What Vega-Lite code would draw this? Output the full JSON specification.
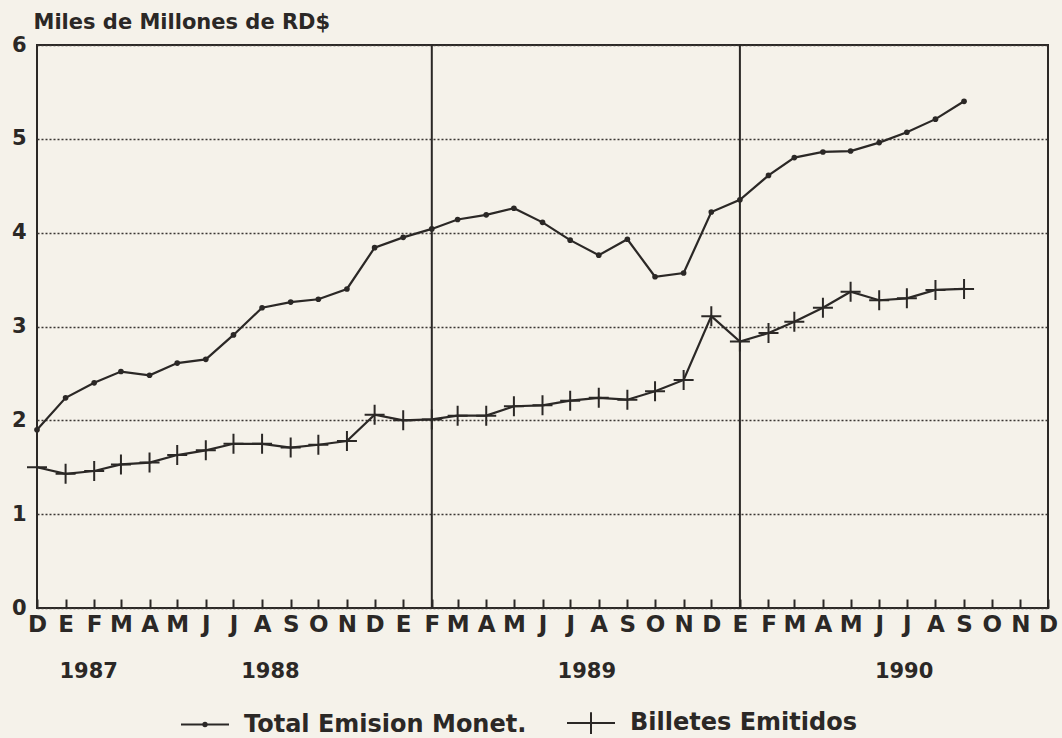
{
  "$schema": "https://vega.github.io/schema/vega-lite/v6.json",
  "width": 1011,
  "height": 563,
  "autosize": {"type": "none"},
  "padding": {"left": 37, "top": 45, "right": 14, "bottom": 130},
  "background": "#f5f2ea",
  "config": {
    "view": {"stroke": "#2b2826", "strokeWidth": 2},
    "font": "DejaVu Sans"
  },
  "datasets": {
    "series": [
      {"m": "1987-12-01", "s": "Total Emision Monet.", "v": 1.90},
      {"m": "1988-01-01", "s": "Total Emision Monet.", "v": 2.24},
      {"m": "1988-02-01", "s": "Total Emision Monet.", "v": 2.40},
      {"m": "1988-03-01", "s": "Total Emision Monet.", "v": 2.52},
      {"m": "1988-04-01", "s": "Total Emision Monet.", "v": 2.48},
      {"m": "1988-05-01", "s": "Total Emision Monet.", "v": 2.61},
      {"m": "1988-06-01", "s": "Total Emision Monet.", "v": 2.65},
      {"m": "1988-07-01", "s": "Total Emision Monet.", "v": 2.91},
      {"m": "1988-08-01", "s": "Total Emision Monet.", "v": 3.20},
      {"m": "1988-09-01", "s": "Total Emision Monet.", "v": 3.26},
      {"m": "1988-10-01", "s": "Total Emision Monet.", "v": 3.29},
      {"m": "1988-11-01", "s": "Total Emision Monet.", "v": 3.40},
      {"m": "1988-12-01", "s": "Total Emision Monet.", "v": 3.84},
      {"m": "1989-01-01", "s": "Total Emision Monet.", "v": 3.95},
      {"m": "1989-02-01", "s": "Total Emision Monet.", "v": 4.04},
      {"m": "1989-03-01", "s": "Total Emision Monet.", "v": 4.14},
      {"m": "1989-04-01", "s": "Total Emision Monet.", "v": 4.19},
      {"m": "1989-05-01", "s": "Total Emision Monet.", "v": 4.26},
      {"m": "1989-06-01", "s": "Total Emision Monet.", "v": 4.11},
      {"m": "1989-07-01", "s": "Total Emision Monet.", "v": 3.92},
      {"m": "1989-08-01", "s": "Total Emision Monet.", "v": 3.76},
      {"m": "1989-09-01", "s": "Total Emision Monet.", "v": 3.93},
      {"m": "1989-10-01", "s": "Total Emision Monet.", "v": 3.53},
      {"m": "1989-11-01", "s": "Total Emision Monet.", "v": 3.57},
      {"m": "1989-12-01", "s": "Total Emision Monet.", "v": 4.22},
      {"m": "1990-01-01", "s": "Total Emision Monet.", "v": 4.35},
      {"m": "1990-02-01", "s": "Total Emision Monet.", "v": 4.61},
      {"m": "1990-03-01", "s": "Total Emision Monet.", "v": 4.80},
      {"m": "1990-04-01", "s": "Total Emision Monet.", "v": 4.86},
      {"m": "1990-05-01", "s": "Total Emision Monet.", "v": 4.87},
      {"m": "1990-06-01", "s": "Total Emision Monet.", "v": 4.96},
      {"m": "1990-07-01", "s": "Total Emision Monet.", "v": 5.07},
      {"m": "1990-08-01", "s": "Total Emision Monet.", "v": 5.21},
      {"m": "1990-09-01", "s": "Total Emision Monet.", "v": 5.40},
      {"m": "1987-12-01", "s": "Billetes Emitidos", "v": 1.50},
      {"m": "1988-01-01", "s": "Billetes Emitidos", "v": 1.43},
      {"m": "1988-02-01", "s": "Billetes Emitidos", "v": 1.46},
      {"m": "1988-03-01", "s": "Billetes Emitidos", "v": 1.53},
      {"m": "1988-04-01", "s": "Billetes Emitidos", "v": 1.55},
      {"m": "1988-05-01", "s": "Billetes Emitidos", "v": 1.63},
      {"m": "1988-06-01", "s": "Billetes Emitidos", "v": 1.68},
      {"m": "1988-07-01", "s": "Billetes Emitidos", "v": 1.75},
      {"m": "1988-08-01", "s": "Billetes Emitidos", "v": 1.75},
      {"m": "1988-09-01", "s": "Billetes Emitidos", "v": 1.71},
      {"m": "1988-10-01", "s": "Billetes Emitidos", "v": 1.74},
      {"m": "1988-11-01", "s": "Billetes Emitidos", "v": 1.78},
      {"m": "1988-12-01", "s": "Billetes Emitidos", "v": 2.06},
      {"m": "1989-01-01", "s": "Billetes Emitidos", "v": 2.00},
      {"m": "1989-02-01", "s": "Billetes Emitidos", "v": 2.01},
      {"m": "1989-03-01", "s": "Billetes Emitidos", "v": 2.05},
      {"m": "1989-04-01", "s": "Billetes Emitidos", "v": 2.05},
      {"m": "1989-05-01", "s": "Billetes Emitidos", "v": 2.15},
      {"m": "1989-06-01", "s": "Billetes Emitidos", "v": 2.16},
      {"m": "1989-07-01", "s": "Billetes Emitidos", "v": 2.21},
      {"m": "1989-08-01", "s": "Billetes Emitidos", "v": 2.24},
      {"m": "1989-09-01", "s": "Billetes Emitidos", "v": 2.22},
      {"m": "1989-10-01", "s": "Billetes Emitidos", "v": 2.31},
      {"m": "1989-11-01", "s": "Billetes Emitidos", "v": 2.43},
      {"m": "1989-12-01", "s": "Billetes Emitidos", "v": 3.11},
      {"m": "1990-01-01", "s": "Billetes Emitidos", "v": 2.84},
      {"m": "1990-02-01", "s": "Billetes Emitidos", "v": 2.93},
      {"m": "1990-03-01", "s": "Billetes Emitidos", "v": 3.05},
      {"m": "1990-04-01", "s": "Billetes Emitidos", "v": 3.20},
      {"m": "1990-05-01", "s": "Billetes Emitidos", "v": 3.37},
      {"m": "1990-06-01", "s": "Billetes Emitidos", "v": 3.28},
      {"m": "1990-07-01", "s": "Billetes Emitidos", "v": 3.30},
      {"m": "1990-08-01", "s": "Billetes Emitidos", "v": 3.39},
      {"m": "1990-09-01", "s": "Billetes Emitidos", "v": 3.40}
    ],
    "dividers": [
      {"m": "1989-02-01"},
      {"m": "1990-01-01"}
    ],
    "years": [
      {"m": "1988-01-26", "label": "1987"},
      {"m": "1988-08-10", "label": "1988"},
      {"m": "1989-07-19", "label": "1989"},
      {"m": "1990-06-28", "label": "1990"}
    ]
  },
  "layer": [
    {
      "data": {"name": "dividers"},
      "mark": {"type": "rule", "color": "#2b2826", "strokeWidth": 2},
      "encoding": {
        "x": {"field": "m", "type": "temporal"}
      }
    },
    {
      "data": {"name": "series"},
      "mark": {"type": "line", "color": "#2b2826", "strokeWidth": 2.2},
      "encoding": {
        "x": {"field": "m", "type": "temporal"},
        "y": {"field": "v", "type": "quantitative"},
        "detail": {"field": "s", "type": "nominal"}
      }
    },
    {
      "data": {"name": "series"},
      "transform": [{"filter": "datum.s === 'Total Emision Monet.'"}],
      "mark": {"type": "point", "shape": "circle", "filled": true, "color": "#2b2826", "size": 32, "opacity": 1},
      "encoding": {
        "x": {"field": "m", "type": "temporal"},
        "y": {"field": "v", "type": "quantitative"}
      }
    },
    {
      "data": {"name": "series"},
      "transform": [{"filter": "datum.s === 'Billetes Emitidos'"}],
      "mark": {"type": "point", "shape": "M-1,0H1M0,-1V1", "filled": false, "stroke": "#2b2826", "strokeWidth": 2, "size": 400, "opacity": 1},
      "encoding": {
        "x": {"field": "m", "type": "temporal"},
        "y": {"field": "v", "type": "quantitative"}
      }
    },
    {
      "data": {"name": "series"},
      "mark": {"type": "point", "filled": false, "color": "#2b2826", "stroke": "#2b2826", "strokeWidth": 2, "opacity": 0, "size": 0},
      "encoding": {
        "x": {"field": "m", "type": "temporal"},
        "y": {"field": "v", "type": "quantitative"},
        "shape": {
          "field": "s",
          "type": "nominal",
          "scale": {
            "domain": ["Total Emision Monet.", "Billetes Emitidos"],
            "range": [
              "M-1,0H1M-0.07,0A0.07,0.07,0,1,0,0.07,0A0.07,0.07,0,1,0,-0.07,0",
              "M-1,0H1M0,-0.45V0.45"
            ]
          },
          "legend": {
            "title": null,
            "orient": "none",
            "legendX": 143,
            "legendY": 653,
            "direction": "horizontal",
            "symbolSize": 2304,
            "symbolOpacity": 1,
            "symbolStrokeColor": "#2b2826",
            "symbolStrokeWidth": 2,
            "labelFont": "DejaVu Sans",
            "labelFontSize": 24,
            "labelFontWeight": "bold",
            "labelColor": "#2b2826",
            "labelLimit": 500,
            "labelOffset": 14,
            "columnPadding": 36,
            "encode": {
              "symbols": {
                "update": {
                  "fill": {"value": "#2b2826"},
                  "stroke": {"value": "#2b2826"},
                  "strokeWidth": {"value": 2.5},
                  "opacity": {"value": 1}
                }
              }
            }
          }
        }
      }
    },
    {
      "data": {"name": "years"},
      "mark": {"type": "text", "font": "DejaVu Sans", "fontSize": 21, "fontWeight": "bold", "color": "#2b2826", "dy": 64, "baseline": "middle", "align": "center"},
      "encoding": {
        "x": {"field": "m", "type": "temporal"},
        "y": {"datum": 0, "type": "quantitative"},
        "text": {"field": "label"}
      }
    }
  ],
  "resolve": {"scale": {"x": "shared", "y": "shared"}},
  "encoding": {
    "x": {
      "field": "m",
      "type": "temporal",
      "scale": {
        "type": "utc",
        "domain": [
          {"year": 1987, "month": 12, "date": 1, "utc": true},
          {"year": 1990, "month": 12, "date": 1, "utc": true}
        ]
      },
      "axis": {
        "title": null,
        "grid": false,
        "domain": false,
        "ticks": true,
        "tickSize": -9,
        "tickWidth": 2,
        "tickColor": "#2b2826",
        "labelPadding": 14,
        "labelFont": "DejaVu Sans",
        "labelFontSize": 23,
        "labelFontWeight": "bold",
        "labelColor": "#2b2826",
        "labelOverlap": false,
        "labelFlush": false,
        "labelBound": false,
        "values": [
          {"year": 1987, "month": 12, "date": 1, "utc": true},
          {"year": 1988, "month": 1, "date": 1, "utc": true},
          {"year": 1988, "month": 2, "date": 1, "utc": true},
          {"year": 1988, "month": 3, "date": 1, "utc": true},
          {"year": 1988, "month": 4, "date": 1, "utc": true},
          {"year": 1988, "month": 5, "date": 1, "utc": true},
          {"year": 1988, "month": 6, "date": 1, "utc": true},
          {"year": 1988, "month": 7, "date": 1, "utc": true},
          {"year": 1988, "month": 8, "date": 1, "utc": true},
          {"year": 1988, "month": 9, "date": 1, "utc": true},
          {"year": 1988, "month": 10, "date": 1, "utc": true},
          {"year": 1988, "month": 11, "date": 1, "utc": true},
          {"year": 1988, "month": 12, "date": 1, "utc": true},
          {"year": 1989, "month": 1, "date": 1, "utc": true},
          {"year": 1989, "month": 2, "date": 1, "utc": true},
          {"year": 1989, "month": 3, "date": 1, "utc": true},
          {"year": 1989, "month": 4, "date": 1, "utc": true},
          {"year": 1989, "month": 5, "date": 1, "utc": true},
          {"year": 1989, "month": 6, "date": 1, "utc": true},
          {"year": 1989, "month": 7, "date": 1, "utc": true},
          {"year": 1989, "month": 8, "date": 1, "utc": true},
          {"year": 1989, "month": 9, "date": 1, "utc": true},
          {"year": 1989, "month": 10, "date": 1, "utc": true},
          {"year": 1989, "month": 11, "date": 1, "utc": true},
          {"year": 1989, "month": 12, "date": 1, "utc": true},
          {"year": 1990, "month": 1, "date": 1, "utc": true},
          {"year": 1990, "month": 2, "date": 1, "utc": true},
          {"year": 1990, "month": 3, "date": 1, "utc": true},
          {"year": 1990, "month": 4, "date": 1, "utc": true},
          {"year": 1990, "month": 5, "date": 1, "utc": true},
          {"year": 1990, "month": 6, "date": 1, "utc": true},
          {"year": 1990, "month": 7, "date": 1, "utc": true},
          {"year": 1990, "month": 8, "date": 1, "utc": true},
          {"year": 1990, "month": 9, "date": 1, "utc": true},
          {"year": 1990, "month": 10, "date": 1, "utc": true},
          {"year": 1990, "month": 11, "date": 1, "utc": true},
          {"year": 1990, "month": 12, "date": 1, "utc": true}
        ],
        "labelExpr": "['E','F','M','A','M','J','J','A','S','O','N','D'][utcmonth(datum.value)]"
      }
    },
    "y": {
      "type": "quantitative",
      "scale": {"domain": [0, 6], "nice": false, "zero": true},
      "axis": {
        "title": "Miles de Millones de RD$",
        "titleAngle": 0,
        "titleX": -4,
        "titleY": -17,
        "titleAlign": "left",
        "titleBaseline": "alphabetic",
        "titleFont": "DejaVu Sans",
        "titleFontSize": 21,
        "titleFontWeight": "bold",
        "titleColor": "#2b2826",
        "values": [0, 1, 2, 3, 4, 5, 6],
        "grid": true,
        "gridDash": [2, 2],
        "gridColor": "#3a3633",
        "gridWidth": 1.5,
        "gridOpacity": 1,
        "domain": false,
        "ticks": false,
        "labelPadding": 11,
        "labelFont": "DejaVu Sans",
        "labelFontSize": 21,
        "labelFontWeight": "bold",
        "labelColor": "#2b2826"
      }
    }
  }
}
